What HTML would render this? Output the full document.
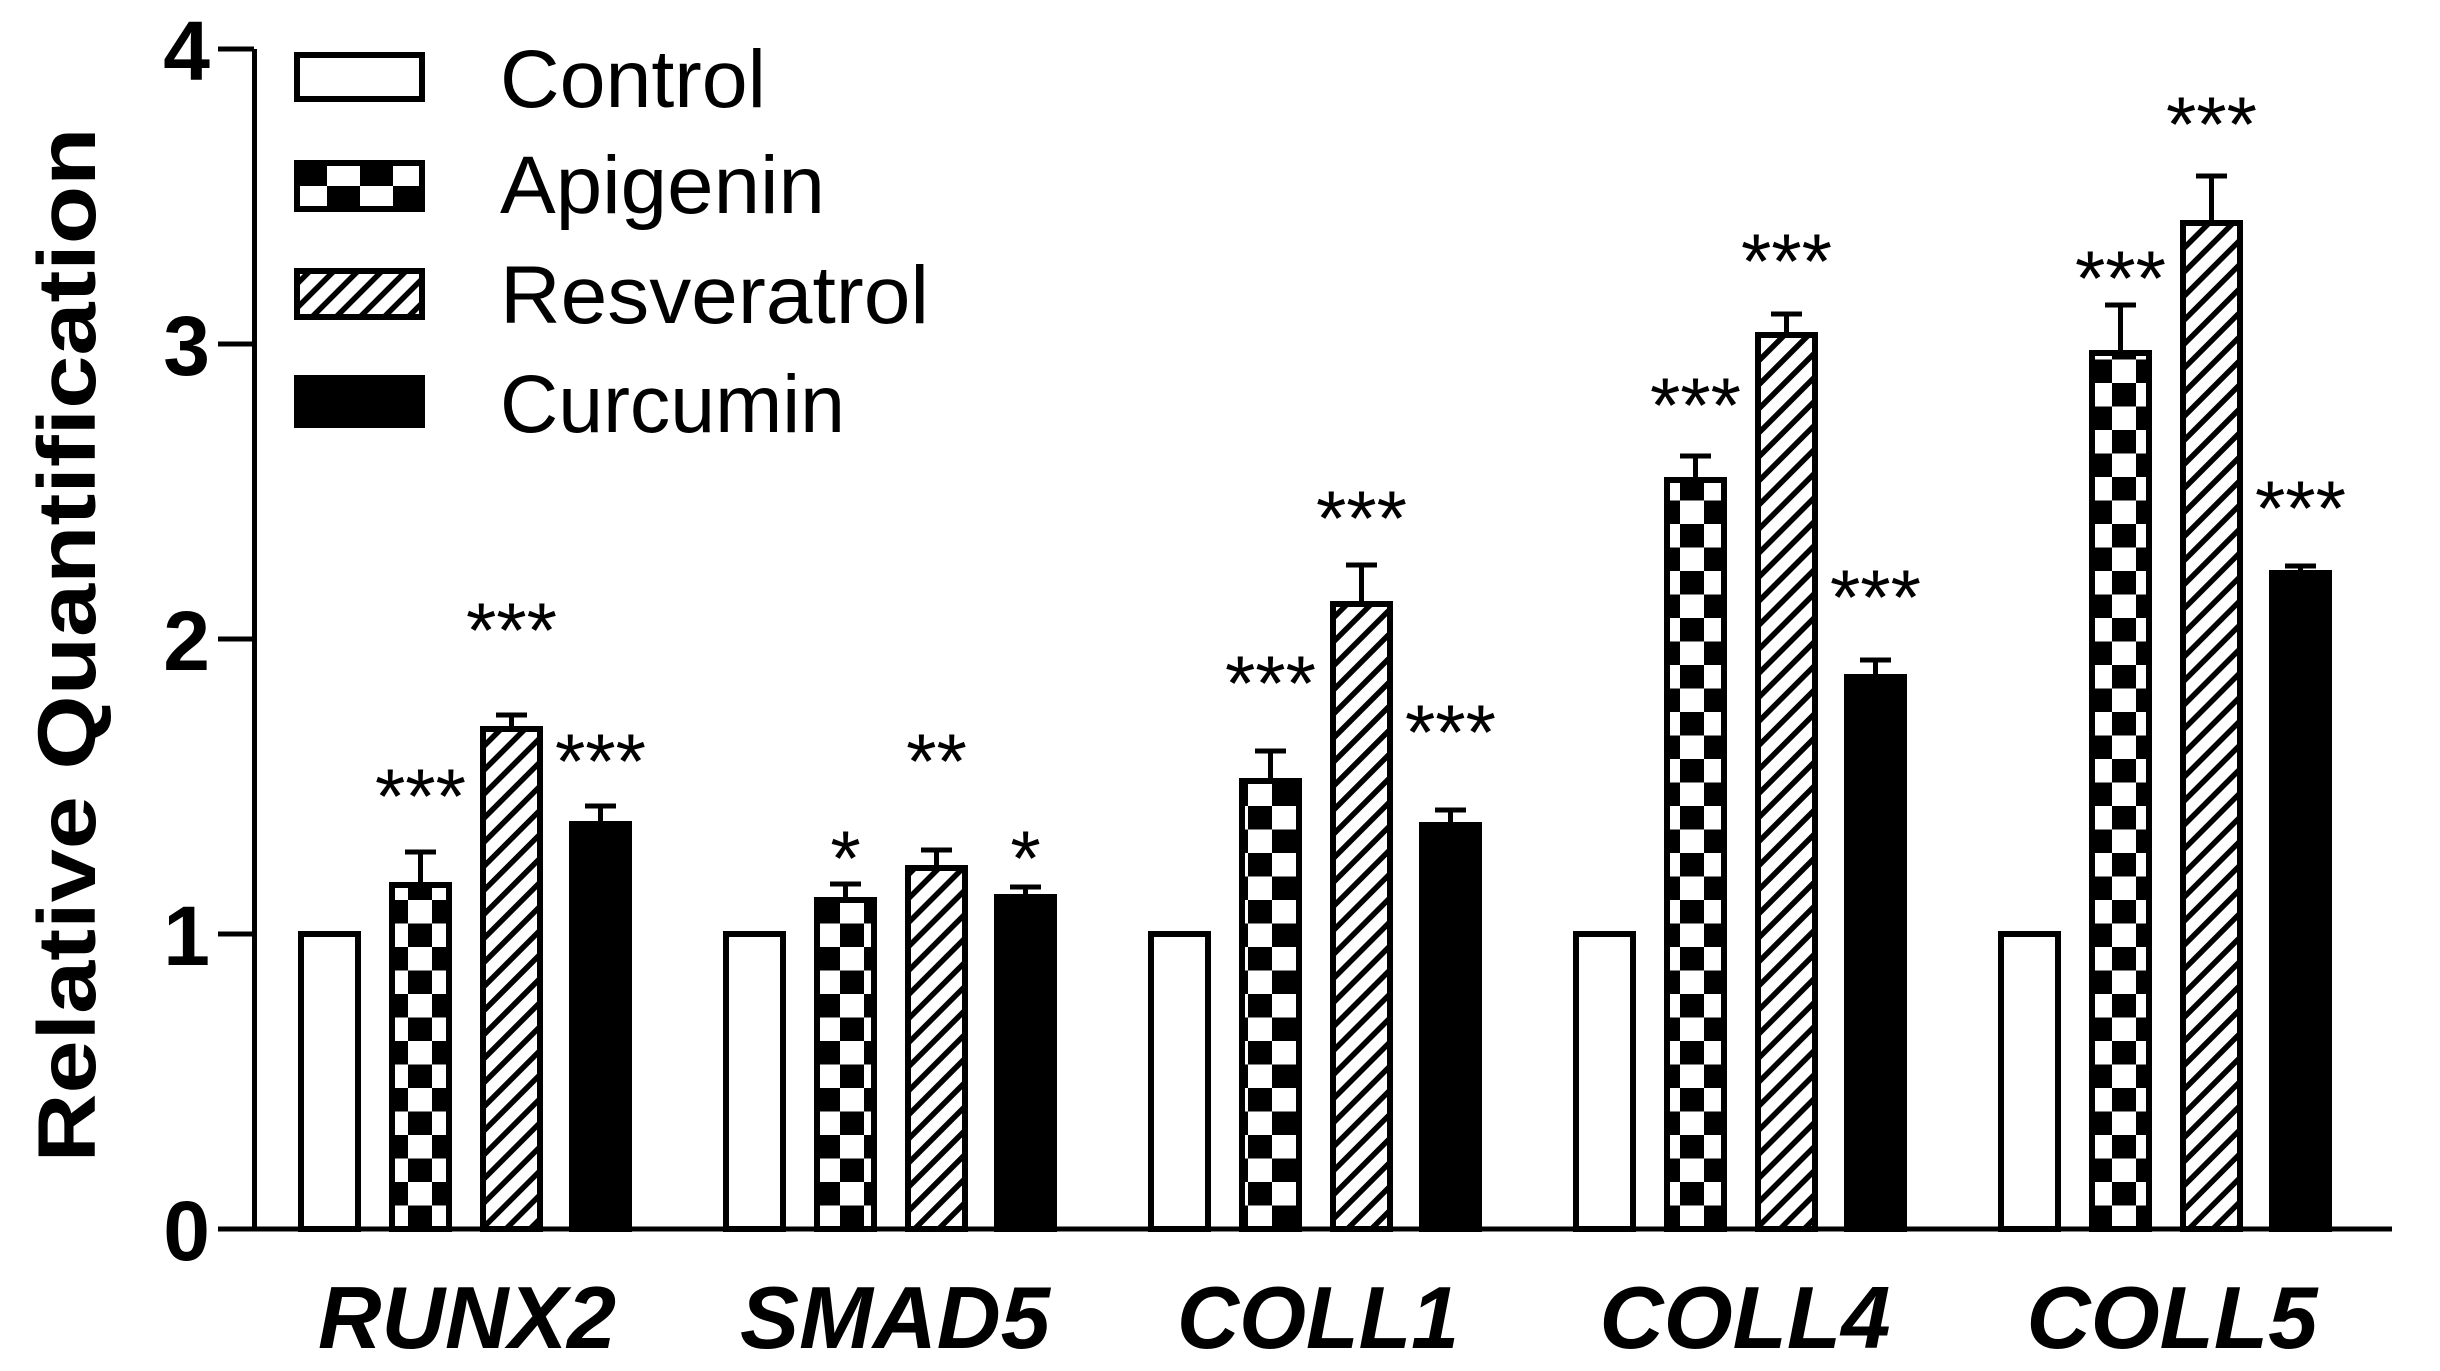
<!DOCTYPE html>
<html><head><meta charset="utf-8"><style>html,body{margin:0;padding:0;background:#fff}svg{display:block}</style></head>
<body>
<svg width="2440" height="1371" viewBox="0 0 2440 1371" xmlns="http://www.w3.org/2000/svg">
<defs>
<pattern id="chk" patternUnits="userSpaceOnUse" x="0" y="1229" width="48" height="47">
<rect width="48" height="47" fill="#fff"/><rect x="0" y="0" width="24" height="23.5" fill="#000"/><rect x="24" y="23.5" width="24" height="23.5" fill="#000"/></pattern>
<pattern id="hat" patternUnits="userSpaceOnUse" width="17" height="17" patternTransform="rotate(-45)">
<rect width="17" height="17" fill="#fff"/><rect width="17" height="5.5" fill="#000"/></pattern>
<pattern id="chkL" patternUnits="userSpaceOnUse" x="294" y="160" width="66" height="52">
<rect width="66" height="52" fill="#fff"/><rect x="0" y="0" width="33" height="26" fill="#000"/><rect x="33" y="26" width="33" height="26" fill="#000"/></pattern>
</defs>
<g fill="none" stroke="#000" stroke-width="5">
<line x1="254.5" y1="49" x2="254.5" y2="1229"/>
<line x1="218" y1="1229" x2="2392" y2="1229"/>
<line x1="218" y1="49" x2="254" y2="49"/>
<line x1="218" y1="344" x2="254" y2="344"/>
<line x1="218" y1="639" x2="254" y2="639"/>
<line x1="218" y1="934" x2="254" y2="934"/>
</g>
<g font-family="Liberation Sans, sans-serif" font-weight="bold" font-size="84" text-anchor="end">
<text x="210" y="80">4</text><text x="210" y="375">3</text><text x="210" y="670">2</text><text x="210" y="965">1</text><text x="210" y="1260">0</text>
</g>
<text transform="translate(95,645) rotate(-90)" font-family="Liberation Sans, sans-serif" font-weight="bold" font-size="82" text-anchor="middle" textLength="1035" lengthAdjust="spacingAndGlyphs">Relative Quantification</text>
<g stroke="#000" stroke-width="6">
<rect x="297" y="55" width="125" height="44" fill="#fff"/>
<rect x="297" y="163" width="125" height="46" fill="url(#chkL)"/>
<rect x="297" y="271" width="125" height="46" fill="url(#hat)"/>
<rect x="297" y="378" width="125" height="47" fill="#000"/>
</g>
<g font-family="Liberation Sans, sans-serif" font-size="82">
<text x="500" y="107" textLength="266" lengthAdjust="spacingAndGlyphs">Control</text>
<text x="500" y="213" textLength="325" lengthAdjust="spacingAndGlyphs">Apigenin</text>
<text x="500" y="323" textLength="429" lengthAdjust="spacingAndGlyphs">Resveratrol</text>
<text x="500" y="432" textLength="345" lengthAdjust="spacingAndGlyphs">Curcumin</text>
</g>
<g stroke="#000" stroke-width="6">
<rect x="301" y="934" width="57" height="295" fill="#fff"/>
<rect x="392" y="885" width="57" height="344" fill="url(#chk)"/>
<rect x="483" y="729" width="57" height="500" fill="url(#hat)"/>
<rect x="572" y="824" width="57" height="405" fill="#000"/>
<rect x="726" y="934" width="57" height="295" fill="#fff"/>
<rect x="817" y="900" width="57" height="329" fill="url(#chk)"/>
<rect x="908" y="868" width="57" height="361" fill="url(#hat)"/>
<rect x="997" y="897" width="57" height="332" fill="#000"/>
<rect x="1151" y="934" width="57" height="295" fill="#fff"/>
<rect x="1242" y="781" width="57" height="448" fill="url(#chk)"/>
<rect x="1333" y="604" width="57" height="625" fill="url(#hat)"/>
<rect x="1422" y="825" width="57" height="404" fill="#000"/>
<rect x="1576" y="934" width="57" height="295" fill="#fff"/>
<rect x="1667" y="480" width="57" height="749" fill="url(#chk)"/>
<rect x="1758" y="335" width="57" height="894" fill="url(#hat)"/>
<rect x="1847" y="677" width="57" height="552" fill="#000"/>
<rect x="2001" y="934" width="57" height="295" fill="#fff"/>
<rect x="2092" y="353" width="57" height="876" fill="url(#chk)"/>
<rect x="2183" y="223" width="57" height="1006" fill="url(#hat)"/>
<rect x="2272" y="573" width="57" height="656" fill="#000"/>
</g>
<g stroke="#000" stroke-width="5" fill="none">
<path d="M420.5 885V852M405 852H436"/>
<path d="M511.5 729V715M496 715H527"/>
<path d="M600.5 824V806M585 806H616"/>
<path d="M845.5 900V884M830 884H861"/>
<path d="M936.5 868V850M921 850H952"/>
<path d="M1025.5 897V887M1010 887H1041"/>
<path d="M1270.5 781V751M1255 751H1286"/>
<path d="M1361.5 604V565M1346 565H1377"/>
<path d="M1450.5 825V810M1435 810H1466"/>
<path d="M1695.5 480V456M1680 456H1711"/>
<path d="M1786.5 335V314M1771 314H1802"/>
<path d="M1875.5 677V660M1860 660H1891"/>
<path d="M2120.5 353V305M2105 305H2136"/>
<path d="M2211.5 223V176M2196 176H2227"/>
<path d="M2300.5 573V566M2285 566H2316"/>
</g>
<g font-family="Liberation Sans, sans-serif" font-size="78" text-anchor="middle">
<text x="420.5" y="823">***</text>
<text x="511.5" y="657">***</text>
<text x="600.5" y="788">***</text>
<text x="845.5" y="885">*</text>
<text x="936.5" y="788">**</text>
<text x="1025.5" y="885">*</text>
<text x="1270.5" y="710">***</text>
<text x="1361.5" y="545">***</text>
<text x="1450.5" y="759">***</text>
<text x="1695.5" y="432">***</text>
<text x="1786.5" y="288">***</text>
<text x="1875.5" y="624">***</text>
<text x="2120.5" y="305">***</text>
<text x="2211.5" y="151">***</text>
<text x="2300.5" y="535">***</text>
</g>
<g font-family="Liberation Sans, sans-serif" font-weight="bold" font-style="italic" font-size="88" text-anchor="middle">
<text x="467" y="1348" textLength="298" lengthAdjust="spacingAndGlyphs">RUNX2</text>
<text x="895" y="1348" textLength="310" lengthAdjust="spacingAndGlyphs">SMAD5</text>
<text x="1318" y="1348" textLength="282" lengthAdjust="spacingAndGlyphs">COLL1</text>
<text x="1745" y="1348" textLength="291" lengthAdjust="spacingAndGlyphs">COLL4</text>
<text x="2172" y="1348" textLength="291" lengthAdjust="spacingAndGlyphs">COLL5</text>
</g>
</svg>
</body></html>
